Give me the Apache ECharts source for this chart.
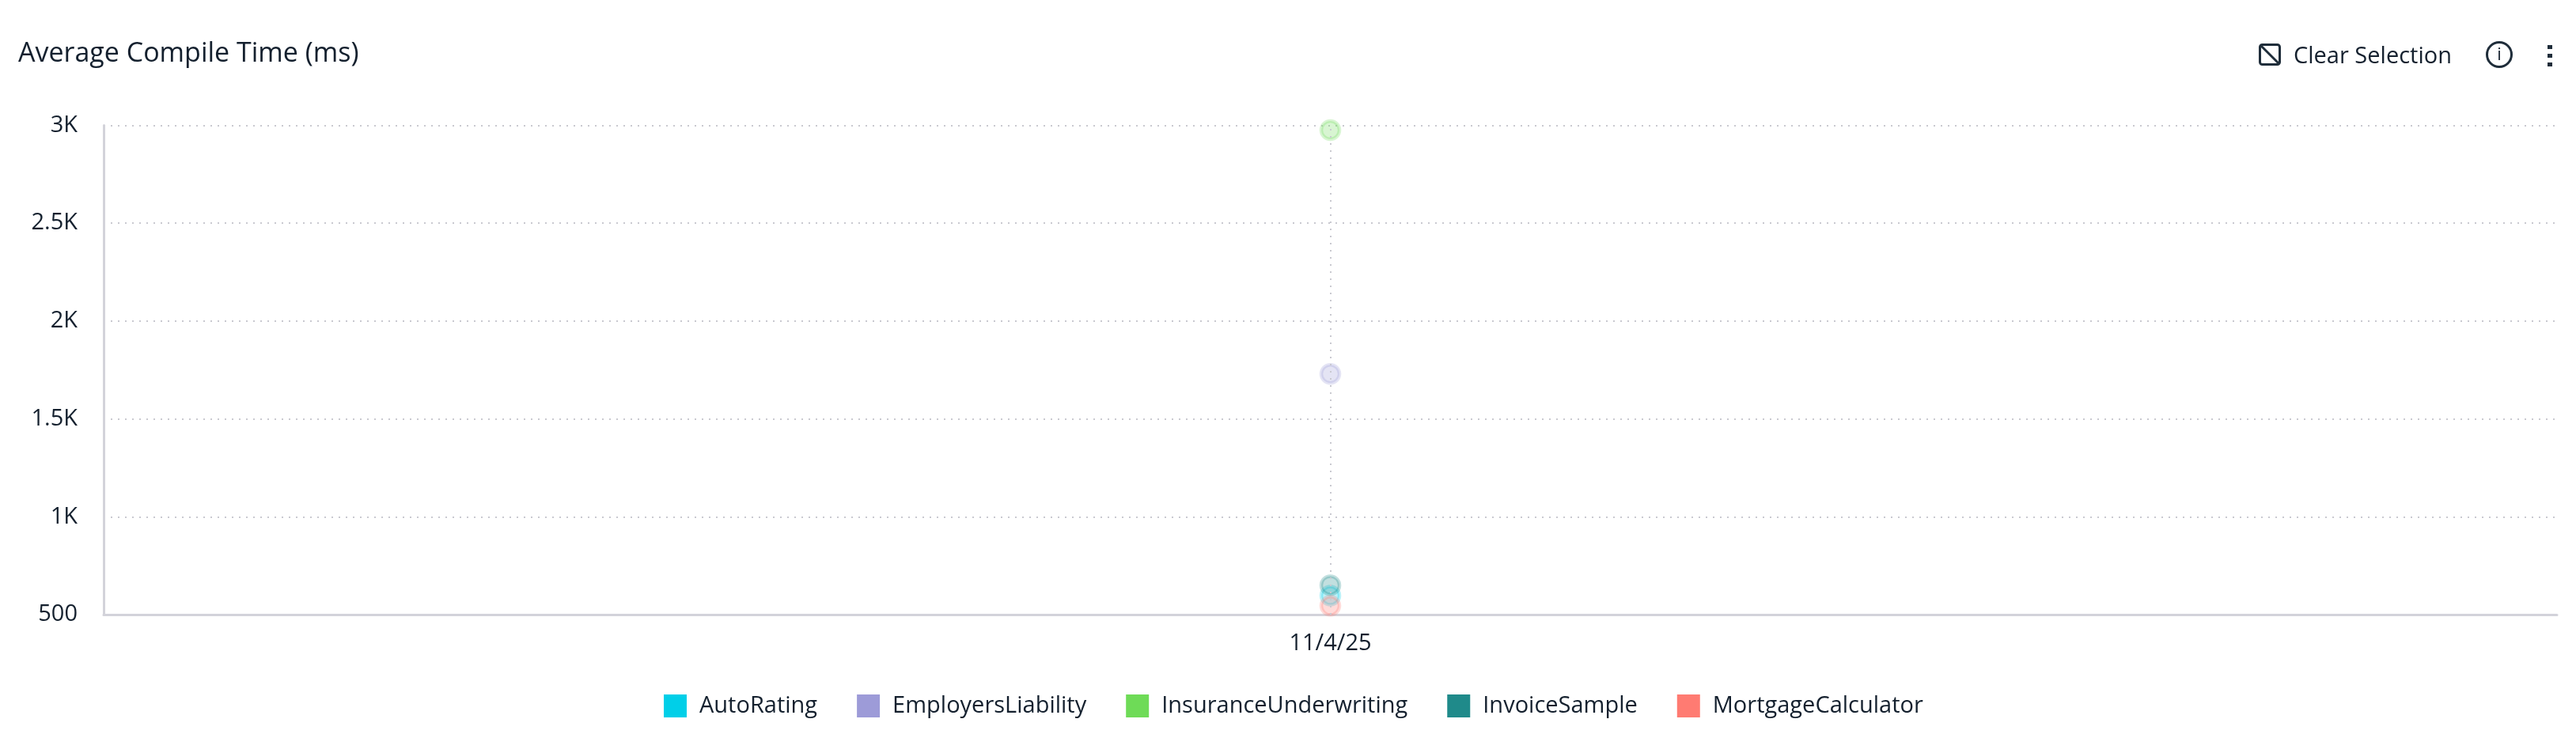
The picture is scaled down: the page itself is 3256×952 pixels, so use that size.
<!DOCTYPE html>
<html><head><meta charset="utf-8">
<style>html,body{margin:0;padding:0;background:#fff}#c{width:3256px;height:952px}</style>
<script src="https://cdn.jsdelivr.net/npm/echarts@6/dist/echarts.min.js"></script>
</head><body><div id="c"></div>
<script>
const categories = ['11/4/25'];
const seriesNames = ['AutoRating','EmployersLiability','InsuranceUnderwriting','InvoiceSample','MortgageCalculator'];
const seriesColors = ['#00CFE8','#9D9BD8','#6EDB57','#1F8A8A','#FF7B72'];
const autoRating = [597];
const employersLiability = [1730];
const insuranceUnderwriting = [2976];
const invoiceSample = [650];
const mortgageCalculator = [545];
const seriesValues = [autoRating, employersLiability, insuranceUnderwriting, invoiceSample, mortgageCalculator];
const textColor = '#14202E';
const font = '"Open Sans"';
const chart = echarts.init(document.getElementById('c'), null, {renderer:'canvas'});
const series = seriesNames.map((name,i)=>({
  name, type:'line', data:seriesValues[i], symbol:'circle', symbolSize:23, showSymbol:true,
  silent:true, animation:false,
  itemStyle:{color:echarts.color.modifyAlpha(seriesColors[i],0.27),borderColor:echarts.color.modifyAlpha(seriesColors[i],0.27),borderWidth:4.5},
  lineStyle:{color:seriesColors[i]},
  ...(i===0?{markLine:{silent:true,symbol:'none',animation:false,label:{show:false},
    lineStyle:{color:'#C9C9D0',type:[2,7],width:2},data:[{xAxis:categories[0]}]}}:{})
}));
chart.setOption({
  animation:false,
  textStyle:{fontFamily:font},
  title:{text:'Average Compile Time (ms)',left:23,top:51,padding:0,textStyle:{fontFamily:font,fontSize:34,fontWeight:400,color:textColor}},
  color:seriesColors,
  grid:{left:131,right:24,top:158.5,bottom:175,containLabel:false},
  xAxis:{type:'category',data:categories,boundaryGap:true,
    axisLine:{lineStyle:{color:'#D3D3DA',width:3}},axisTick:{show:false},
    axisLabel:{color:textColor,fontSize:29,fontFamily:font,margin:22}},
  yAxis:{type:'value',min:500,max:3000,interval:500,
    axisLine:{show:true,lineStyle:{color:'#D3D3DA',width:3}},axisTick:{show:false},
    axisLabel:{color:textColor,fontSize:29,fontFamily:font,margin:33,padding:[4,0,0,0],
      formatter:v=>v>=1000?(v/1000)+'K':String(v)},
    splitLine:{lineStyle:{color:'#C9C9D0',type:[2,7],width:2}}},
  legend:{show:true,top:878,left:839,padding:0,itemWidth:29,itemHeight:29,itemGap:50,icon:'rect',
    data:seriesNames.map((name,i)=>({name,itemStyle:{color:seriesColors[i],borderWidth:0,opacity:1}})),
    textStyle:{fontFamily:font,fontSize:29,color:textColor,padding:[2,0,0,11]}},
  series,
  graphic:[
    {type:'text',x:2899,y:72,style:{text:'Clear Selection',fontFamily:font,fontSize:29,fill:textColor,verticalAlign:'middle'}},
    {type:'rect',shape:{x:2856.5,y:56.5,width:25,height:25,r:3},style:{fill:'none',stroke:'#1F2D3A',lineWidth:3}},
    {type:'line',shape:{x1:2857,y1:57,x2:2881,y2:81},style:{stroke:'#1F2D3A',lineWidth:3}},
    {type:'circle',shape:{cx:3159,cy:69,r:15.5},style:{fill:'none',stroke:'#1F2D3A',lineWidth:3}},
    {type:'text',x:3159,y:70,style:{text:'i',fontFamily:font,fontSize:22,fill:textColor,align:'center',verticalAlign:'middle'}},
    {type:'rect',shape:{x:3220,y:57,width:6,height:5},style:{fill:'#1F2D3A'}},
    {type:'rect',shape:{x:3220,y:68,width:6,height:5},style:{fill:'#1F2D3A'}},
    {type:'rect',shape:{x:3220,y:79,width:6,height:5},style:{fill:'#1F2D3A'}}
  ]
});
</script></body></html>
